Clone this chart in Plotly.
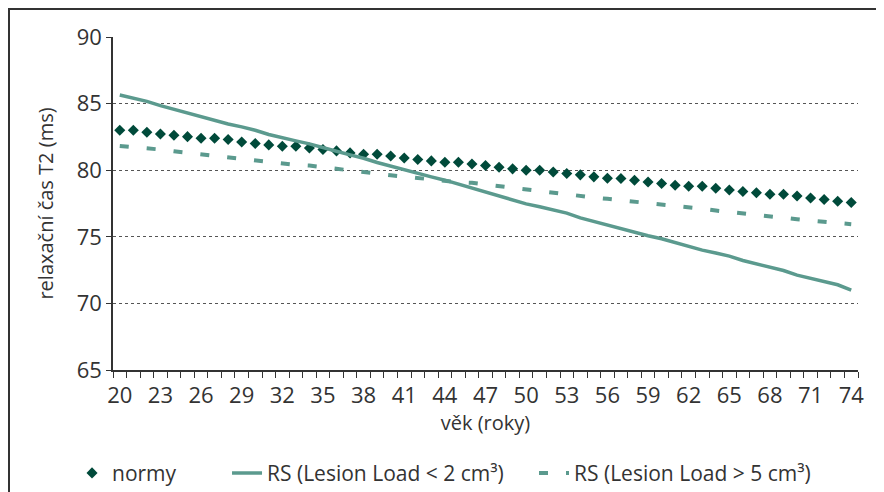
import plotly.graph_objects as go

ages = list(range(20, 75))

normy = [83.0, 83.0, 82.85, 82.72, 82.62, 82.52, 82.4, 82.4, 82.3, 82.12,
         82.0, 81.9, 81.8, 81.8, 81.67, 81.55, 81.45, 81.3, 81.2, 81.2,
         81.07, 80.92, 80.8, 80.7, 80.6, 80.6, 80.47, 80.35, 80.22, 80.1,
         80.0, 80.0, 79.87, 79.75, 79.65, 79.5, 79.4, 79.37, 79.25, 79.12,
         79.0, 78.87, 78.8, 78.8, 78.65, 78.52, 78.4, 78.3, 78.2, 78.2,
         78.07, 77.92, 77.8, 77.67, 77.57]

rs_low = [85.65, 85.4, 85.17, 84.85, 84.57, 84.3, 84.05, 83.75, 83.47, 83.25,
          83.0, 82.68, 82.42, 82.2, 81.98, 81.68, 81.42, 81.15, 80.9, 80.58,
          80.3, 80.05, 79.78, 79.5, 79.25, 78.95, 78.67, 78.35, 78.05, 77.78,
          77.47, 77.25, 77.02, 76.78, 76.42, 76.15, 75.9, 75.6, 75.3, 75.08,
          74.85, 74.58, 74.25, 74.0, 73.78, 73.55, 73.22, 72.95, 72.72, 72.47,
          72.12, 71.88, 71.65, 71.4, 71.0]

rs_high = [81.82, 81.75, 81.67, 81.55, 81.42, 81.3, 81.2, 81.08, 80.95, 80.83,
           80.72, 80.6, 80.47, 80.4, 80.35, 80.22, 80.12, 79.98, 79.85, 79.73,
           79.62, 79.52, 79.42, 79.3, 79.17, 79.1, 79.05, 78.92, 78.8, 78.68,
           78.55, 78.43, 78.32, 78.2, 78.07, 77.95, 77.85, 77.75, 77.67, 77.55,
           77.45, 77.33, 77.22, 77.1, 76.97, 76.85, 76.75, 76.62, 76.5, 76.4,
           76.32, 76.22, 76.12, 76.02, 75.95]

x_tick_labels = list(range(20, 75, 3))
y_ticks = [65, 70, 75, 80, 85, 90]

names = ["normy", "RS (Lesion Load < 2 cm³)", "RS (Lesion Load > 5 cm³)"]

DARK = "#004a3a"
TEAL = "#5b9a8e"
TXT = "#333333"
FONT = "Open Sans"

fig = go.Figure()
fig.add_trace(go.Scatter(x=ages, y=normy, name=names[0], mode="markers",
                         marker=dict(symbol="diamond", size=8.5, color=DARK),
                         legendwidth=110))
fig.add_trace(go.Scatter(x=ages, y=rs_low, name=names[1], mode="lines",
                         line=dict(color=TEAL, width=3.5),
                         legendwidth=262))
fig.add_trace(go.Scatter(x=ages, y=rs_high, name=names[2], mode="lines",
                         line=dict(color=TEAL, width=4, dash="9px,18px")))

fig.update_layout(
    width=876, height=484,
    margin=dict(l=105, r=26, t=29, b=122, autoexpand=False),
    paper_bgcolor="white", plot_bgcolor="white",
    font=dict(family=FONT, color=TXT, size=20),
    showlegend=True,
    legend=dict(orientation="h", x=-0.055, xanchor="left", y=-0.31, yanchor="middle",
                font=dict(size=21, color=TXT), bgcolor="rgba(0,0,0,0)"),
    xaxis=dict(range=[19.5, 74.5], tickmode="array", tickvals=x_tick_labels,
               ticktext=[str(v) for v in x_tick_labels],
               showgrid=False, zeroline=False, automargin=False,
               showline=True, linecolor="#333333", linewidth=1.5,
               ticks="outside", ticklen=5, tickcolor="rgba(0,0,0,0)",
               tickfont=dict(size=22, color=TXT),
               minor=dict(tickmode="linear", tick0=19.5, dtick=1, ticks="outside",
                          ticklen=6, tickcolor="#333333", tickwidth=1.2, showgrid=False),
               title=dict(text="věk (roky)", font=dict(size=20, color=TXT), standoff=8)),
    yaxis=dict(range=[65, 90], tickmode="array", tickvals=y_ticks,
               showgrid=True, gridcolor="#555555", gridwidth=1, griddash="dot",
               zeroline=False, automargin=False,
               showline=True, linecolor="#333333", linewidth=1.5,
               ticks="outside", ticklen=5, tickcolor="#333333",
               tickfont=dict(size=22, color=TXT),
               title=dict(text="relaxační čas T2 (ms)", font=dict(size=20, color=TXT), standoff=18)),
    shapes=[dict(type="rect", xref="paper", yref="paper",
                 x0=-0.1396, x1=1.06, y0=-0.5, y1=1.0841,
                 line=dict(color="#333333", width=2), layer="below")],
)

fig.write_html("out.html")
